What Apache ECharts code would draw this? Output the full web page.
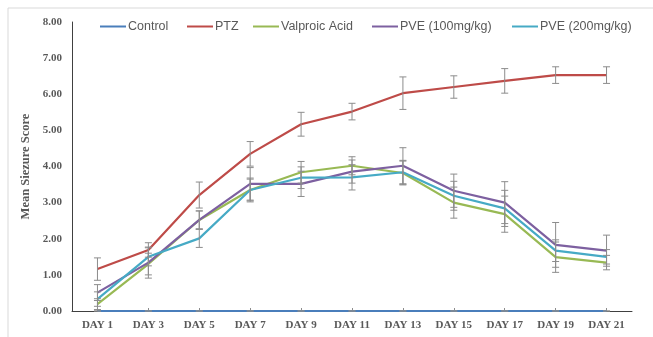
<!DOCTYPE html>
<html>
<head>
<meta charset="utf-8">
<script src="https://cdn.jsdelivr.net/npm/echarts@6/dist/echarts.min.js"></script>
<style>html,body{margin:0;padding:0;background:#fff;}#c{width:653px;height:337px;}</style>
</head>
<body>
<div id="c"></div>
<script>
const categories = ['DAY 1','DAY 3','DAY 5','DAY 7','DAY 9','DAY 11','DAY 13','DAY 15','DAY 17','DAY 19','DAY 21'];
const yTicks = [0,1,2,3,4,5,6,7,8];
const seriesNames = ['Control','PTZ','Valproic Acid','PVE (100mg/kg)','PVE (200mg/kg)'];
const control    = [0,0,0,0,0,0,0,0,0,0,0];
const ptz        = [1.16,1.69,3.21,4.35,5.17,5.52,6.03,6.20,6.37,6.53,6.53];
const valproic   = [0.19,1.30,2.52,3.35,3.84,4.02,3.82,3.00,2.68,1.49,1.34];
const pve100     = [0.51,1.34,2.52,3.52,3.52,3.86,4.02,3.33,3.00,1.83,1.67];
const pve200     = [0.33,1.50,2.01,3.35,3.69,3.70,3.84,3.19,2.84,1.67,1.50];
const controlErr = [0,0,0,0,0,0,0,0,0,0,0];
const ptzErr     = [0.31,0.20,0.36,0.34,0.33,0.23,0.45,0.31,0.34,0.23,0.23];
const valproicErr= [0.15,0.30,0.25,0.33,0.30,0.25,0.33,0.43,0.50,0.42,0.20];
const pve100Err  = [0.22,0.43,0.25,0.45,0.35,0.32,0.50,0.46,0.58,0.62,0.43];
const pve200Err  = [0.20,0.25,0.25,0.30,0.30,0.35,0.33,0.40,0.50,0.30,0.20];

const colors = ['#4a7ebb','#be4b48','#98b954','#7d60a0','#46aac5'];
const values = [control, ptz, valproic, pve100, pve200];
const errors = [controlErr, ptzErr, valproicErr, pve100Err, pve200Err];
const legendLeft = [100, 187, 253, 372, 512];

function errRender(params, api) {
  const i = api.value(0), v = api.value(1), e = api.value(2);
  const t = api.coord([i, v + e]);
  const b = api.coord([i, v - e]);
  const w = 3.5;
  const st = {stroke: '#8c8c8c', lineWidth: 1};
  return {type: 'group', children: [
    {type: 'line', shape: {x1: t[0], y1: t[1], x2: b[0], y2: b[1]}, style: st},
    {type: 'line', shape: {x1: t[0]-w, y1: t[1], x2: t[0]+w, y2: t[1]}, style: st},
    {type: 'line', shape: {x1: b[0]-w, y1: b[1], x2: b[0]+w, y2: b[1]}, style: st}
  ]};
}

const series = [];
values.forEach((vals, k) => {
  series.push({
    name: seriesNames[k], type: 'line', data: vals, symbol: 'none',
    lineStyle: {width: 2.2, color: colors[k]}, itemStyle: {color: colors[k]},
    z: 3 + k, animation: false
  });
});
errors.forEach((errs, k) => {
  series.push({
    type: 'custom', renderItem: errRender, silent: true, z: 10 + k, animation: false,
    data: categories.map((c, i) => [i, values[k][i], errs[i]])
  });
});

const legends = seriesNames.map((n, k) => ({
  data: [n], left: legendLeft[k], top: 20, padding: 0, itemWidth: 26, itemHeight: 2, icon: 'rect',
  itemGap: 0, textStyle: {color: '#595959', fontSize: 12.5, fontFamily: 'Liberation Sans', padding: [0,0,0,-3]},
  selectedMode: false
}));

const chart = echarts.init(document.getElementById('c'));
chart.setOption({
  animation: false,
  color: colors,
  graphic: [{type: 'rect', shape: {x: 8, y: 8, width: 700, height: 400}, style: {fill: 'none', stroke: '#d9d9d9', lineWidth: 1}, silent: true, z: -1}],
  legend: legends,
  grid: {left: 72, right: 21, top: 22, bottom: 26},
  xAxis: {
    type: 'category', data: categories, boundaryGap: true,
    axisLine: {lineStyle: {color: '#404040', width: 1}},
    axisTick: {show: true, alignWithLabel: true, inside: true, length: 3, lineStyle: {color: '#8c8c8c'}},
    axisLabel: {color: '#595959', fontFamily: 'Liberation Serif', fontWeight: 'bold', fontSize: 11, margin: 9, interval: 0}
  },
  yAxis: {
    type: 'value', min: yTicks[0], max: yTicks[yTicks.length-1], interval: 1,
    name: 'Mean Siezure Score', nameLocation: 'middle', nameGap: 38,
    nameTextStyle: {color: '#595959', fontFamily: 'Liberation Serif', fontWeight: 'bold', fontSize: 12.5},
    axisLine: {show: true, lineStyle: {color: '#404040', width: 1}},
    axisTick: {show: false},
    splitLine: {show: false},
    axisLabel: {color: '#595959', fontFamily: 'Liberation Serif', fontWeight: 'bold', fontSize: 11, margin: 10,
      formatter: v => v.toFixed(2)}
  },
  series: series
});
</script>
</body>
</html>
